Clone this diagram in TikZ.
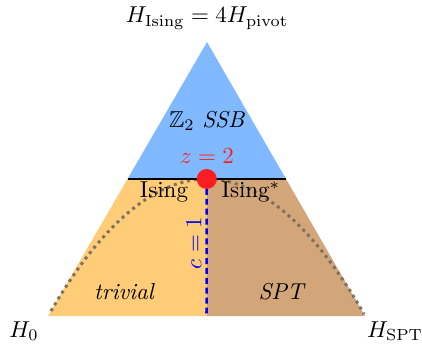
\documentclass[tikz,border=0pt]{standalone}
\usepackage{amsmath}
\usepackage{amssymb}
\usetikzlibrary{calc}

\definecolor{ssbblue}{RGB}{128,185,255}
\definecolor{trivorange}{RGB}{255,204,119}
\definecolor{sptbrown}{RGB}{210,166,121}
\definecolor{curvegray}{RGB}{125,113,98}
\definecolor{critred}{RGB}{250,30,35}

\begin{document}
\begin{tikzpicture}[x=0.435pt,y=-0.435pt,
                   phase/.style={font=\itshape},
                   gapless/.style={line width=1.1pt,blue,dash pattern=on 2.6pt off 1.7pt},
                   crossover/.style={curvegray,line width=1.3pt,dash pattern=on 1.3pt off 1.7pt},
                   critdot/.style={circle,fill=critred,minimum size=8.7pt,inner sep=0pt}]
\useasboundingbox (0,0) rectangle (422,345);
% corners of the phase triangle
\coordinate (top) at (207,42);
\coordinate (left) at (48,316);
\coordinate (right) at (365,316);
\coordinate (ml) at ($(top)!0.5!(left)$);
\coordinate (mr) at ($(top)!0.5!(right)$);
\coordinate (crit) at ($(ml)!0.5!(mr)$);
\coordinate (bot) at ($(left)!0.5!(right)$);
\coordinate (cl) at (51,311);
\coordinate (cr) at (364,314);
% phases
\fill[ssbblue] (top) -- (mr) -- (ml) -- cycle;
\fill[trivorange] (ml) -- (crit) -- (bot) -- (left) -- cycle;
\fill[sptbrown] (crit) -- (mr) -- (right) -- (bot) -- cycle;
\draw[crossover] (cl) parabola bend (crit) (cr);
\draw[line width=0.9pt] (ml) -- (mr);
\draw[gapless] (crit) -- (bot);
\node[critdot] (dot) at (crit) {};
% labels
\node (hising) at (207,18) {$H_{\mathrm{Ising}}=4H_{\mathrm{pivot}}$};
\node (ssb) at (207,121) {$\mathbb{Z}_2$ \textit{SSB}};
\node[text=critred] (zlabel) at (207,156) {$z=2$};
\node (ising) at (164,192) {Ising};
\node (isingdual) at (251,192) {Ising$^*$};
\node[rotate=90,text=blue] (clabel) at (194,243) {$c=1$};
\node[phase] (trivial) at (124,292) {trivial};
\node[phase] (spt) at (281,292) {SPT};
\node (hzero) at (24,331) {$H_0$};
\node (hspt) at (395,331) {$H_{\mathrm{SPT}}$};
\end{tikzpicture}
\end{document}
